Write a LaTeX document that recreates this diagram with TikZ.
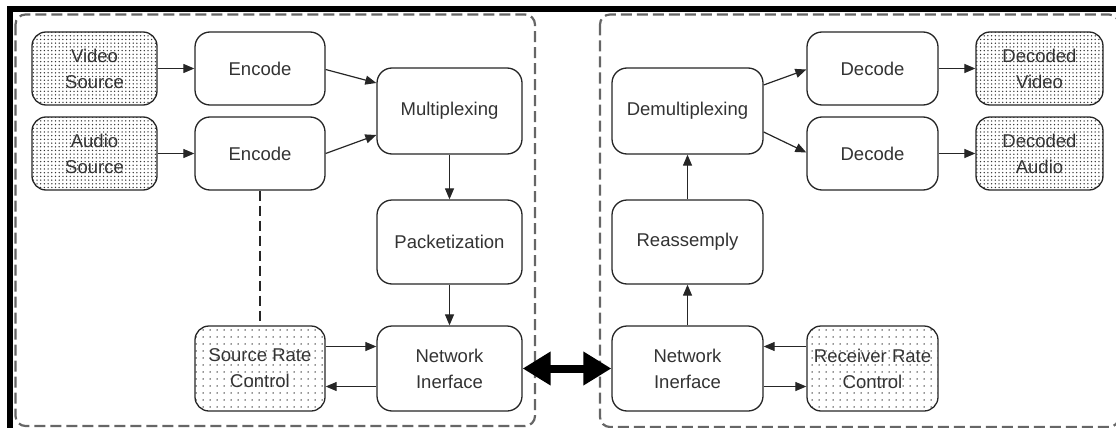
\documentclass[tikz,border=0pt]{standalone}
\usepackage{fontspec}
\setmainfont{Liberation Sans}
\usetikzlibrary{arrows.meta,patterns.meta}
\newcommand\boxfont{\fontsize{18.5}{26}\selectfont}
\tikzset{
  stage/.style={draw=black!85, line width=1.3pt, rounded corners=15pt, fill=white,
    align=center, font=\boxfont, text=black!80, inner sep=0pt},
  srcbox/.style={stage, rounded corners=14pt, pattern={Dots[distance=3.7pt, radius=0.75pt]}, pattern color=black!80},
  ratebox/.style={stage, rounded corners=14pt, pattern={Dots[distance=7pt, radius=0.75pt]}, pattern color=black!85},
  flow/.style={draw=black!85, line width=1.2pt, -{Triangle[length=11pt,width=9pt]}},
  link/.style={draw=black, line width=8pt, {Triangle[length=28pt,width=32pt]}-{Triangle[length=28pt,width=32pt]}},
  group/.style={draw=black!60, line width=2.2pt, dash pattern=on 11pt off 5pt, rounded corners=10pt},
  ctrl/.style={draw=black!85, line width=1.2pt, dash pattern=on 10pt off 5pt},
}
\begin{document}
\begin{tikzpicture}[x=1pt,y=-1pt]
\useasboundingbox (0,0) rectangle (1116,428);
\clip (0,0) rectangle (1116,428);
% screenshot frame
\fill[black] (7,6.5) rectangle (1116,12);
\fill[black] (7,6.5) rectangle (13,428);
% groups
\draw[group] (15.5,14.5) rectangle (535,426);
\draw[group] (600,14.5) rectangle (1119,427);
% sender
\node[srcbox, minimum width=125pt, minimum height=73pt] (vs) at (94.5,68.5) {Video\\Source};
\node[srcbox, minimum width=125pt, minimum height=73pt] (as) at (94.5,153.5) {Audio\\Source};
\node[stage, minimum width=130pt, minimum height=73pt] (enc1) at (260,68.5) {Encode};
\node[stage, minimum width=130pt, minimum height=73pt] (enc2) at (260,153.5) {Encode};
\node[stage, minimum width=145pt, minimum height=86pt] (mux) at (449.5,111) {Multiplexing};
\node[stage, minimum width=145pt, minimum height=84pt] (pack) at (449.5,242) {Packetization};
\node[stage, minimum width=145pt, minimum height=85pt] (nil) at (449.5,368.5) {Network\\Inerface};
\node[ratebox, minimum width=130pt, minimum height=85pt] (src) at (260,368.5) {Source Rate\\Control};
% receiver
\node[stage, minimum width=151pt, minimum height=86pt] (demux) at (687.5,111) {Demultiplexing};
\node[stage, minimum width=131pt, minimum height=73pt] (dec1) at (872.5,68.5) {Decode};
\node[stage, minimum width=131pt, minimum height=73pt] (dec2) at (872.5,153.5) {Decode};
\node[srcbox, minimum width=127pt, minimum height=73pt] (dv) at (1039.5,68.5) {Decoded\\Video};
\node[srcbox, minimum width=127pt, minimum height=73pt] (da) at (1039.5,153.5) {Decoded\\Audio};
\node[stage, minimum width=151pt, minimum height=84pt] (reas) at (687.5,242) {Reassemply};
\node[stage, minimum width=151pt, minimum height=85pt] (nir) at (687.5,368.5) {Network\\Inerface};
\node[ratebox, minimum width=131pt, minimum height=85pt] (rrc) at (872.5,368.5) {Receiver Rate\\Control};
% sender connectors
\draw[flow] (vs.east) -- (enc1.west);
\draw[flow] (as.east) -- (enc2.west);
\draw[flow] ([yshift=-1pt]enc1.east) -- ([yshift=28pt]mux.west);
\draw[flow] (enc2.east) -- ([yshift=-24pt]mux.west);
\draw[flow] (mux.south) -- (pack.north);
\draw[flow] (pack.south) -- (nil.north);
\draw[flow] ([yshift=22pt]src.east) -- ([yshift=22pt]nil.west);
\draw[flow] ([yshift=-18pt]nil.west) -- ([yshift=-18pt]src.east);
\draw[ctrl] (enc2.south) -- (src.north);
% link
\draw[link] (nil.east) -- (nir.west);
% receiver connectors
\draw[flow] (nir.north) -- (reas.south);
\draw[flow] (reas.north) -- (demux.south);
\draw[flow] ([yshift=26pt]demux.east) -- ([yshift=-1pt]dec1.west);
\draw[flow] ([yshift=-21pt]demux.east) -- ([yshift=1pt]dec2.west);
\draw[flow] (dec1.east) -- (dv.west);
\draw[flow] (dec2.east) -- (da.west);
\draw[flow] ([yshift=22pt]rrc.west) -- ([yshift=22pt]nir.east);
\draw[flow] ([yshift=-18pt]nir.east) -- ([yshift=-18pt]rrc.west);
\end{tikzpicture}
\end{document}
